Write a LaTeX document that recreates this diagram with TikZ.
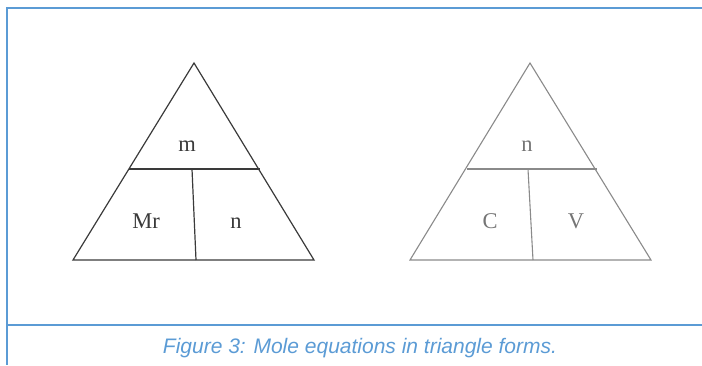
\documentclass[tikz,border=0pt]{standalone}
\usepackage{fontspec}
\setmainfont{Liberation Serif}
\newfontfamily\capfont{Liberation Sans}
\definecolor{capblue}{HTML}{5B9BD5}
\definecolor{darktri}{HTML}{3A3A3A}
\definecolor{lighttri}{HTML}{8A8A8A}
\begin{document}
\begin{tikzpicture}[x=1pt,y=-1pt,
  frame/.style={draw=capblue,line width=1.6pt},
  tridark/.style={draw=darktri,line width=1.2pt,line join=miter},
  trilight/.style={draw=lighttri,line width=1.1pt,line join=miter},
  lbl/.style={font=\fontsize{22.5}{26}\selectfont,anchor=base,inner sep=0pt},
  lbllight/.style={lbl,text=lighttri!85!black},
  caption/.style={font=\capfont\itshape\fontsize{21}{25}\selectfont,text=capblue,anchor=base,inner sep=0pt}]
\useasboundingbox (0,0) rectangle (702,365);
% frame
\coordinate (ftl) at (7,8);
\coordinate (ftr) at (702,8);
\coordinate (fbl) at (7,365);
\coordinate (fml) at (7,325);
\coordinate (fmr) at (702,325);
\draw[frame] (ftr) -- (ftl) -- (fbl);
\draw[frame] (fml) -- (fmr);
% left triangle
\coordinate (a1) at (194,63);
\coordinate (b1) at (73,260);
\coordinate (c1) at (314,260);
\coordinate (d1) at (129,169);
\coordinate (e1) at (260,169);
\coordinate (f1) at (192,169);
\coordinate (g1) at (196,260);
\draw[tridark] (a1) -- (b1) -- (c1) -- cycle;
\draw[tridark] (d1) -- (e1);
\draw[tridark] (f1) -- (g1);
\node[lbl,text=darktri] (m1) at (187,151) {m};
\node[lbl,text=darktri] (mr1) at (146,228) {Mr};
\node[lbl,text=darktri] (n1) at (236,228) {n};
% right triangle
\coordinate (a2) at (530,63);
\coordinate (b2) at (410,260);
\coordinate (c2) at (651,260);
\coordinate (d2) at (467,169);
\coordinate (e2) at (597,169);
\coordinate (f2) at (528,169);
\coordinate (g2) at (533,260);
\draw[trilight] (a2) -- (b2) -- (c2) -- cycle;
\draw[trilight] (d2) -- (e2);
\draw[trilight] (f2) -- (g2);
\node[lbllight] (n2) at (527,151) {n};
\node[lbllight] (c2l) at (490,228) {C};
\node[lbllight] (v2) at (576,228) {V};
% caption
\node[caption] (cap) at (360,353) {Figure 3: Mole equations in triangle forms.};
\end{tikzpicture}
\end{document}
